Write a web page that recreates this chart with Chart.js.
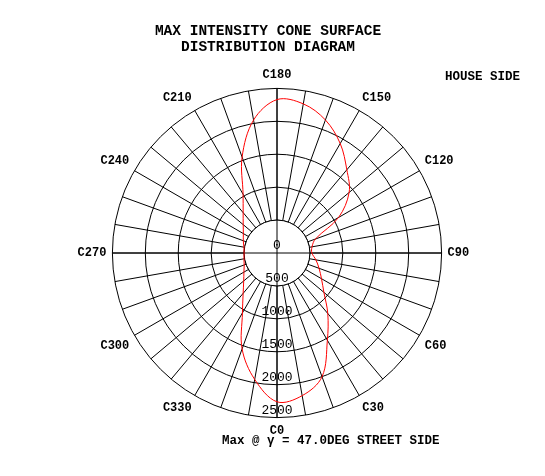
<!DOCTYPE html>
<html>
<head>
<meta charset="utf-8">
<script src="https://cdn.jsdelivr.net/npm/chart.js@4"></script>
<style>
  body { margin: 0; background: #fff; }
  #wrap { width: 545px; height: 476px; }
</style>
</head>
<body>
<div id="wrap"><canvas id="polar"></canvas></div>
<script>
// C-plane angles, clockwise from the top of the diagram
const cAngles = [180, 170, 160, 150, 140, 130, 120, 110, 100, 90, 80, 70, 60, 50, 40, 30, 20, 10,
                 0, 350, 340, 330, 320, 310, 300, 290, 280, 270, 260, 250, 240, 230, 220, 210, 200, 190];
// intensity along the max cone surface (cd)
const intensity = [2330, 2300, 2150, 1920, 1650, 1430, 1080, 620, 540, 530, 600, 680, 780, 930, 1200, 1530, 2000, 2200,
                   2260, 1950, 1550, 1050, 800, 660, 580, 530, 510, 500, 510, 545, 590, 670, 800, 1030, 1550, 2050];
const ringTicks = [0, 500, 1000, 1500, 2000, 2500];

const MONO = '"Liberation Mono", "DejaVu Sans Mono", monospace';

const overlay = {
    id: 'overlay',
    beforeDatasetsDraw(chart) {
        const ctx = chart.ctx;
        const s = chart.scales.r;
        const r0 = s.getDistanceFromCenterForValue(500);
        const rMax = s.getDistanceFromCenterForValue(2500);
        ctx.save();
        // clear spokes inside the 500 ring
        ctx.fillStyle = '#fff';
        ctx.beginPath();
        ctx.arc(s.xCenter, s.yCenter, r0, 0, Math.PI * 2);
        ctx.fill();
        ctx.strokeStyle = '#000';
        ctx.lineWidth = 1;
        ctx.stroke();
        // main cross
        ctx.beginPath();
        ctx.moveTo(s.xCenter - rMax, s.yCenter);
        ctx.lineTo(s.xCenter + rMax, s.yCenter);
        ctx.moveTo(s.xCenter, s.yCenter - rMax);
        ctx.lineTo(s.xCenter, s.yCenter + rMax);
        ctx.stroke();
        // ring labels down the C0 axis
        ctx.fillStyle = '#000';
        ctx.font = '13px ' + MONO;
        ctx.textAlign = 'center';
        ctx.textBaseline = 'bottom';
        ringTicks.forEach((v) => {
            const d = s.getDistanceFromCenterForValue(v);
            ctx.fillText(String(v), s.xCenter, s.yCenter + d - 1);
        });
        ctx.restore();
    },
    afterDraw(chart) {
        const ctx = chart.ctx;
        ctx.save();
        ctx.fillStyle = '#000';
        ctx.textAlign = 'center';
        ctx.textBaseline = 'middle';
        ctx.font = 'bold 14.5px ' + MONO;
        ctx.fillText('MAX INTENSITY CONE SURFACE', 268, 31);
        ctx.fillText('DISTRIBUTION DIAGRAM', 268, 47);
        ctx.font = 'bold 12.5px ' + MONO;
        ctx.textAlign = 'left';
        ctx.fillText('HOUSE SIDE', 445, 77);
        ctx.fillText('Max @ \u03b3 = 47.0DEG STREET SIDE', 222, 441);
        ctx.restore();
    }
};

new Chart(document.getElementById('polar'), {
    type: 'radar',
    data: {
        labels: cAngles.map((a) => 'C' + a),
        datasets: [{
            data: intensity,
            borderColor: '#ff0000',
            borderWidth: 1,
            pointRadius: 0,
            fill: false,
            tension: 0.35
        }]
    },
    options: {
        responsive: true,
        maintainAspectRatio: false,
        animation: false,
        layout: { padding: { top: 68, bottom: 38, left: 62, right: 58 } },
        plugins: { legend: { display: false }, tooltip: { enabled: false } },
        scales: {
            r: {
                min: 0,
                max: 2500,
                ticks: { stepSize: 500, display: false },
                grid: { circular: true, color: '#000', lineWidth: 1 },
                angleLines: { color: '#000', lineWidth: 1 },
                pointLabels: {
                    color: '#000',
                    font: { family: MONO, size: 12, weight: 'bold' },
                    padding: 6,
                    callback: (label, i) => (cAngles[i] % 30 === 0 ? label : '')
                }
            }
        }
    },
    plugins: [overlay]
});
</script>
</body>
</html>
